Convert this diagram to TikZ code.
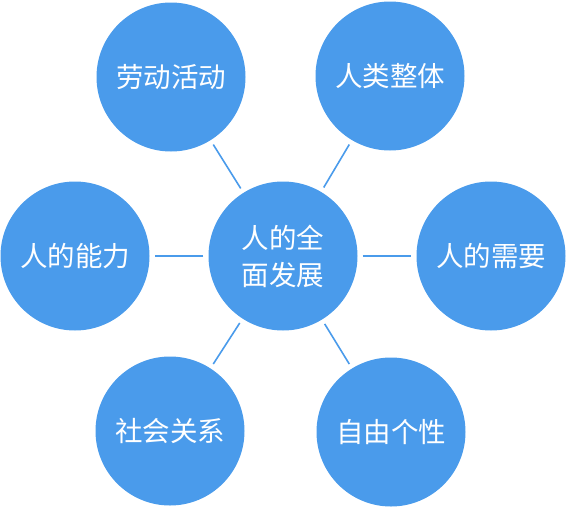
\documentclass[tikz,border=0pt]{standalone}
\usepackage{fontspec}
\newfontfamily\cjk{Noto Sans CJK SC}
\definecolor{bubbleblue}{RGB}{74,155,235}

\begin{document}
\begin{tikzpicture}[x=1pt, y=-1pt,
    bubble/.style={circle, fill=bubbleblue, minimum size=149pt, inner sep=0pt,
        text=white, font=\cjk\fontsize{27.5}{37}\selectfont, align=center},
    spoke/.style={draw=bubbleblue, line width=1.6pt, shorten <=5pt, shorten >=5pt}]

    % page frame
    \useasboundingbox (0,0) rectangle (566,507);

    % centre
    \node[bubble] (hub) at (283,256) {人的全\\面发展};

    % outer ring
    \node[bubble] (labour) at (171,77) {劳动活动};
    \node[bubble] (mankind) at (390,76) {人类整体};
    \node[bubble] (ability) at (75,256) {人的能力};
    \node[bubble] (needs) at (491,256) {人的需要};
    \node[bubble] (social) at (170,431) {社会关系};
    \node[bubble] (freedom) at (391,432) {自由个性};

    % spokes
    \draw[spoke] (hub) -- (labour);
    \draw[spoke] (hub) -- (mankind);
    \draw[spoke] (hub) -- (ability);
    \draw[spoke] (hub) -- (needs);
    \draw[spoke] (hub) -- (social);
    \draw[spoke] (hub) -- (freedom);

\end{tikzpicture}
\end{document}
